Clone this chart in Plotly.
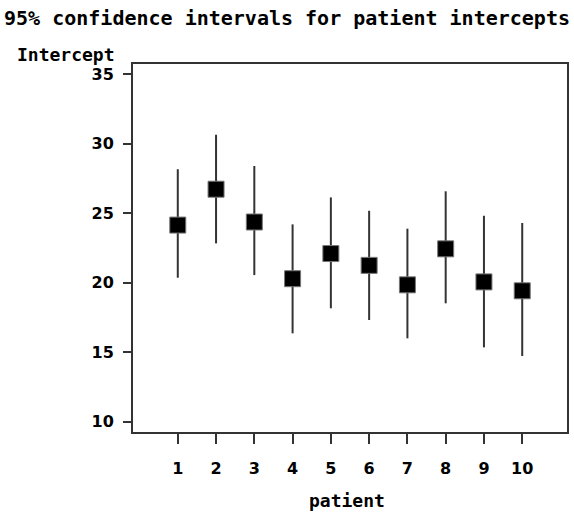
import plotly.graph_objects as go

# Patient random-intercept estimates with 95% confidence limits
patients = [1, 2, 3, 4, 5, 6, 7, 8, 9, 10]
estimate = [24.15, 26.73, 24.37, 20.29, 22.10, 21.25, 19.85, 22.44, 20.06, 19.42]
lower = [20.36, 22.83, 20.55, 16.36, 18.16, 17.32, 16.00, 18.52, 15.35, 14.73]
upper = [28.17, 30.65, 28.40, 24.20, 26.14, 25.18, 23.89, 26.58, 24.82, 24.30]

y_ticks = [10, 15, 20, 25, 30, 35]

err_plus = [u - e for u, e in zip(upper, estimate)]
err_minus = [e - l for e, l in zip(estimate, lower)]

title_font = dict(family="DejaVu Sans Mono", size=20, color="black", weight="bold")
label_font = dict(family="DejaVu Sans Mono", size=18, color="black", weight="bold")
tickfont = dict(family="DejaVu Sans", size=16, color="black", weight="bold")

fig = go.Figure()
fig.add_trace(go.Scatter(
    x=patients, y=estimate, mode="markers",
    marker=dict(symbol="square", size=16, color="black",
                line=dict(color="#777777", width=1)),
    error_y=dict(type="data", symmetric=False, array=err_plus,
                 arrayminus=err_minus, thickness=2, width=0, color="#333333"),
    showlegend=False,
))

fig.update_layout(
    width=574, height=512,
    margin=dict(l=133, r=5, t=64, b=80),
    paper_bgcolor="white", plot_bgcolor="white",
    title=dict(text="95% confidence intervals for patient intercepts",
               font=title_font, x=0.5, xref="container", xanchor="center",
               y=1 - 18 / 512, yref="container", yanchor="middle"),
    xaxis=dict(range=[-0.17, 11.17], tickvals=patients,
               ticktext=[str(p) for p in patients],
               showgrid=False, zeroline=False,
               showline=True, linecolor="#333333", linewidth=2, mirror=True,
               ticks="outside", ticklen=10, tickwidth=2, tickcolor="#333333",
               tickfont=tickfont, ticklabelstandoff=11),
    yaxis=dict(range=[9.26, 35.74], tickvals=y_ticks,
               showgrid=False, zeroline=False,
               showline=True, linecolor="#333333", linewidth=2, mirror=True,
               ticks="outside", ticklen=8, tickwidth=2, tickcolor="#333333",
               tickfont=tickfont, ticklabelstandoff=6),
    annotations=[
        dict(text="Intercept", font=label_font, showarrow=False,
             xref="paper", yref="paper", x=-0.0367, y=(432 - 54) / 368,
             xanchor="right", yanchor="middle"),
        dict(text="patient", font=label_font, showarrow=False,
             xref="paper", yref="paper", x=0.493, y=(432 - 500) / 368,
             xanchor="center", yanchor="middle"),
    ],
)

fig.write_html("out.html")
